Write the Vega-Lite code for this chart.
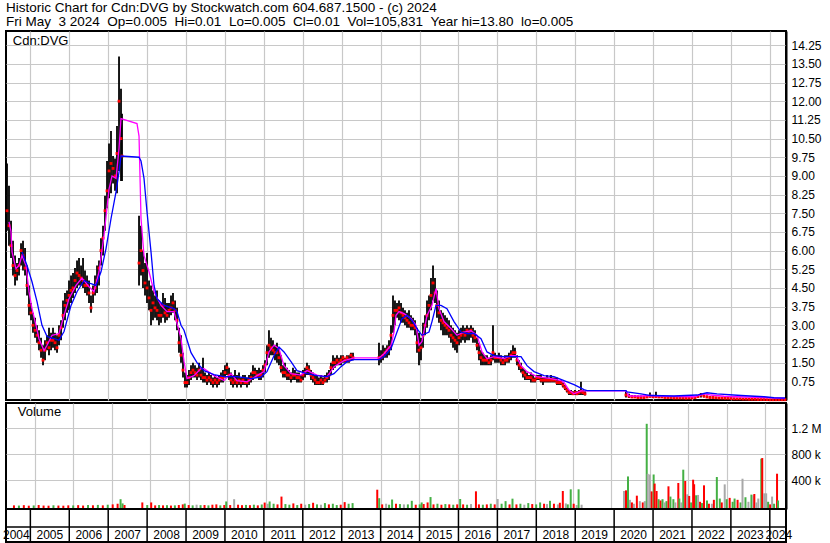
{
"$schema": "https://vega.github.io/schema/vega-lite/v6.json",
"background": "white",
"padding": {"left": 2, "top": 0, "right": 0, "bottom": 0},
"config": {"font": "Liberation Sans", "view": {"stroke": "black", "strokeWidth": 2}, "axis": {"labelOverlap": false}},
"title": {"text": ["Historic Chart for Cdn:DVG by Stockwatch.com 604.687.1500 - (c) 2024", "Fri May \u00a03 2024 \u00a0Op=0.005 \u00a0Hi=0.01 \u00a0Lo=0.005 \u00a0Cl=0.01 \u00a0Vol=105,831 \u00a0Year hi=13.80 \u00a0lo=0.005"], "anchor": "start", "fontSize": 13.5, "fontWeight": "normal", "color": "black", "lineHeight": 14, "offset": 2, "frame": "group"},
"datasets": {
"px": [
{"t":2004.400,"h":9.5,"l":6.8,"c":7.6},{"t":2004.451,"h":8.6,"l":6.2,"c":7.0},{"t":2004.503,"h":7.2,"l":5.7,"c":6.2},{"t":2004.554,"h":6.4,"l":5.0,"c":5.4},{"t":2004.606,"h":5.8,"l":4.6,"c":5.0},{"t":2004.657,"h":5.5,"l":4.8,"c":5.2},{"t":2004.708,"h":5.7,"l":5.0,"c":5.4},{"t":2004.760,"h":6.3,"l":5.4,"c":6.0},{"t":2004.811,"h":6.4,"l":5.2,"c":5.8},{"t":2004.863,"h":6.1,"l":5.0,"c":5.3},{"t":2004.914,"h":5.4,"l":4.2,"c":4.6},{"t":2004.965,"h":4.6,"l":3.4,"c":3.8},{"t":2005.017,"h":3.9,"l":3.2,"c":3.5},{"t":2005.068,"h":3.5,"l":2.7,"c":3.0},{"t":2005.120,"h":3.3,"l":2.5,"c":2.8},{"t":2005.171,"h":3.0,"l":2.3,"c":2.6},{"t":2005.222,"h":2.8,"l":2.0,"c":2.3},{"t":2005.274,"h":2.5,"l":1.7,"c":2.0},{"t":2005.325,"h":2.2,"l":1.4,"c":1.6},{"t":2005.376,"h":2.4,"l":1.6,"c":2.0},{"t":2005.428,"h":2.6,"l":2.0,"c":2.3},{"t":2005.479,"h":2.9,"l":1.8,"c":2.1},{"t":2005.531,"h":2.7,"l":2.0,"c":2.4},{"t":2005.582,"h":2.9,"l":2.1,"c":2.4},{"t":2005.633,"h":2.7,"l":2.0,"c":2.3},{"t":2005.685,"h":2.6,"l":1.9,"c":2.1},{"t":2005.736,"h":3.0,"l":2.2,"c":2.6},{"t":2005.788,"h":3.2,"l":2.4,"c":2.9},{"t":2005.839,"h":4.0,"l":2.9,"c":3.4},{"t":2005.890,"h":4.3,"l":3.2,"c":3.8},{"t":2005.942,"h":4.4,"l":3.5,"c":4.0},{"t":2005.993,"h":4.8,"l":3.6,"c":4.2},{"t":2006.045,"h":5.0,"l":3.9,"c":4.4},{"t":2006.096,"h":5.1,"l":4.1,"c":4.5},{"t":2006.147,"h":5.3,"l":4.3,"c":4.8},{"t":2006.199,"h":5.6,"l":4.5,"c":5.1},{"t":2006.250,"h":5.7,"l":4.6,"c":5.0},{"t":2006.302,"h":5.4,"l":4.6,"c":4.9},{"t":2006.353,"h":5.7,"l":4.5,"c":4.8},{"t":2006.404,"h":5.2,"l":4.3,"c":4.6},{"t":2006.456,"h":5.0,"l":4.2,"c":4.6},{"t":2006.507,"h":4.8,"l":3.9,"c":4.3},{"t":2006.558,"h":4.2,"l":3.5,"c":3.7},{"t":2006.610,"h":4.6,"l":3.9,"c":4.3},{"t":2006.661,"h":5.0,"l":4.2,"c":4.5},{"t":2006.713,"h":5.4,"l":4.3,"c":4.8},{"t":2006.764,"h":5.6,"l":4.6,"c":5.3},{"t":2006.815,"h":6.5,"l":5.4,"c":6.0},{"t":2006.867,"h":7.0,"l":5.8,"c":6.5},{"t":2006.918,"h":8.2,"l":6.8,"c":7.6},{"t":2006.970,"h":9.6,"l":7.7,"c":8.4},{"t":2007.021,"h":10.3,"l":8.1,"c":9.2},{"t":2007.072,"h":10.8,"l":8.3,"c":9.5},{"t":2007.124,"h":9.8,"l":8.7,"c":9.3},{"t":2007.175,"h":9.7,"l":8.4,"c":9.0},{"t":2007.226,"h":11.0,"l":8.3,"c":9.9},{"t":2007.278,"h":13.8,"l":9.2,"c":12.0},{"t":2007.329,"h":12.5,"l":8.8,"c":10.5},{"t":2007.355,"h":11.5,"l":8.8,"c":9.8},
{"t":2007.792,"h":7.4,"l":4.6,"c":5.5},{"t":2007.843,"h":7.0,"l":5.0,"c":6.0},{"t":2007.894,"h":6.0,"l":4.5,"c":5.2},{"t":2007.946,"h":5.5,"l":4.2,"c":4.7},{"t":2007.997,"h":5.9,"l":3.9,"c":4.5},{"t":2008.049,"h":4.8,"l":3.6,"c":4.1},{"t":2008.100,"h":4.6,"l":3.0,"c":3.6},{"t":2008.151,"h":4.4,"l":3.2,"c":3.9},{"t":2008.203,"h":4.2,"l":3.3,"c":3.7},{"t":2008.254,"h":4.4,"l":3.2,"c":3.6},{"t":2008.305,"h":4.0,"l":3.0,"c":3.4},{"t":2008.357,"h":3.9,"l":3.1,"c":3.4},{"t":2008.408,"h":4.3,"l":3.3,"c":3.8},{"t":2008.460,"h":4.1,"l":3.1,"c":3.5},{"t":2008.511,"h":3.9,"l":3.2,"c":3.4},{"t":2008.562,"h":3.9,"l":3.3,"c":3.6},{"t":2008.614,"h":4.2,"l":3.4,"c":3.7},{"t":2008.665,"h":4.3,"l":3.5,"c":3.9},{"t":2008.717,"h":4.0,"l":3.2,"c":3.6},{"t":2008.768,"h":3.7,"l":2.8,"c":3.2},{"t":2008.819,"h":2.9,"l":1.9,"c":2.3},{"t":2008.871,"h":2.6,"l":1.5,"c":1.8},{"t":2008.922,"h":1.9,"l":0.9,"c":1.2},{"t":2008.973,"h":1.1,"l":0.5,"c":0.7},{"t":2009.025,"h":1.0,"l":0.5,"c":0.7},{"t":2009.076,"h":1.2,"l":0.6,"c":0.9},{"t":2009.128,"h":1.4,"l":0.8,"c":1.1},{"t":2009.179,"h":1.5,"l":0.9,"c":1.2},{"t":2009.230,"h":1.4,"l":0.9,"c":1.1},{"t":2009.282,"h":1.3,"l":0.8,"c":1.0},{"t":2009.333,"h":1.5,"l":0.9,"c":1.2},{"t":2009.384,"h":1.3,"l":0.8,"c":1.0},{"t":2009.436,"h":1.7,"l":0.7,"c":0.9},{"t":2009.487,"h":1.1,"l":0.7,"c":0.9},{"t":2009.539,"h":1.0,"l":0.6,"c":0.8},{"t":2009.590,"h":1.1,"l":0.7,"c":0.9},{"t":2009.641,"h":1.0,"l":0.6,"c":0.8},{"t":2009.693,"h":0.9,"l":0.5,"c":0.7},{"t":2009.744,"h":1.0,"l":0.6,"c":0.8},{"t":2009.796,"h":0.9,"l":0.5,"c":0.7},{"t":2009.847,"h":1.0,"l":0.6,"c":0.8},{"t":2009.898,"h":1.1,"l":0.7,"c":0.9},{"t":2009.950,"h":1.2,"l":0.7,"c":0.9},{"t":2010.001,"h":1.4,"l":0.9,"c":1.1},{"t":2010.052,"h":1.5,"l":1.0,"c":1.3},{"t":2010.104,"h":1.3,"l":0.8,"c":1.0},{"t":2010.155,"h":1.1,"l":0.6,"c":0.8},{"t":2010.207,"h":1.0,"l":0.5,"c":0.7},{"t":2010.258,"h":1.2,"l":0.6,"c":0.8},{"t":2010.309,"h":1.0,"l":0.5,"c":0.7},{"t":2010.361,"h":1.1,"l":0.6,"c":0.8},{"t":2010.412,"h":0.9,"l":0.5,"c":0.7},{"t":2010.463,"h":1.0,"l":0.6,"c":0.8},{"t":2010.515,"h":1.0,"l":0.6,"c":0.7},{"t":2010.566,"h":0.9,"l":0.5,"c":0.7},{"t":2010.618,"h":1.0,"l":0.6,"c":0.8},{"t":2010.669,"h":1.1,"l":0.7,"c":0.9},{"t":2010.720,"h":1.4,"l":0.8,"c":1.1},{"t":2010.772,"h":1.3,"l":0.9,"c":1.1},{"t":2010.823,"h":1.2,"l":0.9,"c":1.0},{"t":2010.875,"h":1.3,"l":0.8,"c":1.0},{"t":2010.926,"h":1.2,"l":0.8,"c":1.0},{"t":2010.977,"h":1.4,"l":0.9,"c":1.2},{"t":2011.029,"h":1.6,"l":1.1,"c":1.4},{"t":2011.080,"h":2.2,"l":1.4,"c":1.9},{"t":2011.131,"h":2.8,"l":1.7,"c":2.2},{"t":2011.183,"h":2.5,"l":1.8,"c":2.1},{"t":2011.234,"h":2.4,"l":1.8,"c":2.0},{"t":2011.286,"h":2.2,"l":1.6,"c":1.9},{"t":2011.337,"h":2.3,"l":1.5,"c":1.9},{"t":2011.388,"h":2.1,"l":1.4,"c":1.7},{"t":2011.440,"h":1.8,"l":1.1,"c":1.3},{"t":2011.491,"h":1.4,"l":0.9,"c":1.1},{"t":2011.543,"h":1.5,"l":0.9,"c":1.1},{"t":2011.594,"h":1.3,"l":0.8,"c":1.0},{"t":2011.645,"h":1.2,"l":0.8,"c":1.0},{"t":2011.697,"h":1.1,"l":0.7,"c":0.9},{"t":2011.748,"h":1.3,"l":0.8,"c":1.0},{"t":2011.799,"h":1.2,"l":0.8,"c":1.0},{"t":2011.851,"h":1.1,"l":0.7,"c":0.9},{"t":2011.902,"h":1.1,"l":0.7,"c":0.9},{"t":2011.954,"h":1.0,"l":0.7,"c":0.8},{"t":2012.005,"h":1.2,"l":0.8,"c":1.0},{"t":2012.056,"h":1.3,"l":0.9,"c":1.1},{"t":2012.108,"h":1.5,"l":1.0,"c":1.3},{"t":2012.159,"h":1.4,"l":1.0,"c":1.2},{"t":2012.211,"h":1.2,"l":0.8,"c":1.0},{"t":2012.262,"h":1.1,"l":0.7,"c":0.9},{"t":2012.313,"h":1.0,"l":0.6,"c":0.8},{"t":2012.365,"h":1.0,"l":0.6,"c":0.7},{"t":2012.416,"h":0.9,"l":0.6,"c":0.7},{"t":2012.467,"h":1.0,"l":0.6,"c":0.8},{"t":2012.519,"h":0.9,"l":0.6,"c":0.7},{"t":2012.570,"h":1.0,"l":0.7,"c":0.8},{"t":2012.622,"h":1.1,"l":0.7,"c":0.9},{"t":2012.673,"h":1.2,"l":0.8,"c":1.0},{"t":2012.724,"h":1.5,"l":1.0,"c":1.3},{"t":2012.776,"h":1.8,"l":1.2,"c":1.5},{"t":2012.827,"h":1.7,"l":1.3,"c":1.5},{"t":2012.879,"h":1.8,"l":1.4,"c":1.6},{"t":2012.930,"h":1.7,"l":1.4,"c":1.5},{"t":2012.981,"h":1.8,"l":1.4,"c":1.6},{"t":2013.033,"h":1.8,"l":1.5,"c":1.7},{"t":2013.084,"h":1.7,"l":1.5,"c":1.6},{"t":2013.135,"h":1.8,"l":1.5,"c":1.7},{"t":2013.187,"h":1.8,"l":1.5,"c":1.6},{"t":2013.238,"h":1.9,"l":1.6,"c":1.8},{"t":2013.290,"h":1.9,"l":1.6,"c":1.7},
{"t":2013.958,"h":2.3,"l":1.4,"c":1.7},{"t":2014.010,"h":2.0,"l":1.5,"c":1.7},{"t":2014.061,"h":2.2,"l":1.6,"c":1.8},{"t":2014.112,"h":2.1,"l":1.7,"c":1.9},{"t":2014.164,"h":2.2,"l":1.7,"c":2.0},{"t":2014.215,"h":2.4,"l":1.8,"c":2.1},{"t":2014.267,"h":3.0,"l":2.0,"c":2.6},{"t":2014.318,"h":4.2,"l":2.7,"c":3.4},{"t":2014.369,"h":4.0,"l":3.0,"c":3.6},{"t":2014.421,"h":3.9,"l":3.3,"c":3.6},{"t":2014.472,"h":4.0,"l":3.2,"c":3.7},{"t":2014.524,"h":3.9,"l":3.1,"c":3.5},{"t":2014.575,"h":3.7,"l":3.1,"c":3.4},{"t":2014.626,"h":3.6,"l":3.0,"c":3.3},{"t":2014.678,"h":3.5,"l":2.9,"c":3.2},{"t":2014.729,"h":3.6,"l":2.9,"c":3.1},{"t":2014.780,"h":3.4,"l":2.8,"c":3.0},{"t":2014.832,"h":3.3,"l":2.8,"c":3.0},{"t":2014.883,"h":3.2,"l":2.6,"c":2.9},{"t":2014.935,"h":2.9,"l":1.9,"c":2.3},{"t":2014.986,"h":2.7,"l":1.4,"c":2.0},{"t":2015.037,"h":2.5,"l":1.6,"c":2.1},{"t":2015.089,"h":3.1,"l":2.1,"c":2.6},{"t":2015.140,"h":3.4,"l":2.6,"c":3.0},{"t":2015.192,"h":4.0,"l":2.9,"c":3.4},{"t":2015.243,"h":4.2,"l":3.2,"c":3.8},{"t":2015.294,"h":4.9,"l":3.6,"c":4.2},{"t":2015.346,"h":5.4,"l":4.0,"c":4.7},{"t":2015.397,"h":4.9,"l":3.9,"c":4.3},{"t":2015.448,"h":4.4,"l":3.3,"c":3.8},{"t":2015.500,"h":4.0,"l":3.1,"c":3.5},{"t":2015.551,"h":3.6,"l":2.8,"c":3.2},{"t":2015.603,"h":3.5,"l":2.6,"c":3.1},{"t":2015.654,"h":3.4,"l":2.6,"c":3.0},{"t":2015.705,"h":3.3,"l":2.6,"c":2.9},{"t":2015.757,"h":3.2,"l":2.5,"c":2.8},{"t":2015.808,"h":3.0,"l":2.3,"c":2.6},{"t":2015.860,"h":2.9,"l":2.1,"c":2.5},{"t":2015.911,"h":2.8,"l":2.0,"c":2.4},{"t":2015.962,"h":2.7,"l":1.9,"c":2.3},{"t":2016.014,"h":2.8,"l":2.2,"c":2.5},{"t":2016.065,"h":2.9,"l":2.3,"c":2.6},{"t":2016.116,"h":3.0,"l":2.4,"c":2.7},{"t":2016.168,"h":2.9,"l":2.3,"c":2.6},{"t":2016.219,"h":3.0,"l":2.4,"c":2.8},{"t":2016.271,"h":2.9,"l":2.4,"c":2.7},{"t":2016.322,"h":3.0,"l":2.5,"c":2.8},{"t":2016.373,"h":2.9,"l":2.3,"c":2.6},{"t":2016.425,"h":2.8,"l":2.3,"c":2.5},{"t":2016.476,"h":2.5,"l":2.0,"c":2.2},{"t":2016.528,"h":2.3,"l":1.6,"c":1.9},{"t":2016.579,"h":2.0,"l":1.4,"c":1.7},{"t":2016.630,"h":1.9,"l":1.4,"c":1.6},{"t":2016.682,"h":1.8,"l":1.4,"c":1.6},{"t":2016.733,"h":1.8,"l":1.4,"c":1.6},{"t":2016.784,"h":1.7,"l":1.4,"c":1.5},{"t":2016.836,"h":1.8,"l":1.4,"c":1.6},{"t":2016.887,"h":3.0,"l":1.6,"c":1.9},{"t":2016.939,"h":1.9,"l":1.5,"c":1.7},{"t":2016.990,"h":1.8,"l":1.5,"c":1.7},{"t":2017.041,"h":1.9,"l":1.5,"c":1.7},{"t":2017.093,"h":1.8,"l":1.4,"c":1.6},{"t":2017.144,"h":1.7,"l":1.4,"c":1.5},{"t":2017.196,"h":1.8,"l":1.4,"c":1.6},{"t":2017.247,"h":1.8,"l":1.5,"c":1.6},{"t":2017.298,"h":1.9,"l":1.5,"c":1.7},{"t":2017.350,"h":2.0,"l":1.6,"c":1.8},{"t":2017.401,"h":2.2,"l":1.7,"c":1.9},{"t":2017.452,"h":2.1,"l":1.7,"c":1.9},{"t":2017.504,"h":1.8,"l":1.4,"c":1.6},{"t":2017.555,"h":1.6,"l":1.2,"c":1.4},{"t":2017.607,"h":1.5,"l":1.1,"c":1.3},{"t":2017.658,"h":1.3,"l":0.9,"c":1.1},{"t":2017.709,"h":1.2,"l":0.8,"c":1.0},{"t":2017.761,"h":1.1,"l":0.8,"c":0.9},{"t":2017.812,"h":1.0,"l":0.8,"c":0.9},{"t":2017.864,"h":1.1,"l":0.7,"c":0.9},{"t":2017.915,"h":1.0,"l":0.7,"c":0.8},{"t":2017.966,"h":0.9,"l":0.7,"c":0.8},{"t":2018.018,"h":1.0,"l":0.8,"c":0.9},{"t":2018.069,"h":1.0,"l":0.8,"c":0.9},{"t":2018.120,"h":1.0,"l":0.7,"c":0.8},{"t":2018.172,"h":0.9,"l":0.6,"c":0.8},{"t":2018.223,"h":0.9,"l":0.7,"c":0.8},{"t":2018.275,"h":1.0,"l":0.7,"c":0.8},{"t":2018.326,"h":0.9,"l":0.7,"c":0.8},{"t":2018.377,"h":1.0,"l":0.7,"c":0.8},{"t":2018.429,"h":0.9,"l":0.7,"c":0.8},{"t":2018.480,"h":0.9,"l":0.7,"c":0.8},{"t":2018.532,"h":0.9,"l":0.6,"c":0.7},{"t":2018.583,"h":0.8,"l":0.6,"c":0.7},{"t":2018.634,"h":0.8,"l":0.6,"c":0.7},{"t":2018.686,"h":0.7,"l":0.5,"c":0.6},{"t":2018.737,"h":0.6,"l":0.4,"c":0.5},{"t":2018.788,"h":0.5,"l":0.3,"c":0.4},{"t":2018.840,"h":0.4,"l":0.2,"c":0.3},{"t":2018.891,"h":0.4,"l":0.2,"c":0.3},{"t":2018.943,"h":0.35,"l":0.2,"c":0.25},{"t":2018.994,"h":0.4,"l":0.2,"c":0.3},{"t":2019.045,"h":0.35,"l":0.2,"c":0.25},{"t":2019.097,"h":0.4,"l":0.2,"c":0.3},{"t":2019.148,"h":0.73,"l":0.2,"c":0.35},{"t":2019.199,"h":0.4,"l":0.2,"c":0.3},{"t":2019.251,"h":0.35,"l":0.18,"c":0.25},
{"t":2020.304,"h":0.35,"l":0.1,"c":0.2},{"t":2020.381,"h":0.25,"l":0.08,"c":0.15},{"t":2020.458,"h":0.2,"l":0.08,"c":0.12},{"t":2020.535,"h":0.2,"l":0.08,"c":0.12},{"t":2020.612,"h":0.18,"l":0.07,"c":0.1},{"t":2020.689,"h":0.18,"l":0.07,"c":0.1},{"t":2020.766,"h":0.15,"l":0.06,"c":0.1},{"t":2020.844,"h":0.18,"l":0.08,"c":0.12},{"t":2020.921,"h":0.3,"l":0.1,"c":0.15},{"t":2020.998,"h":0.2,"l":0.1,"c":0.13},{"t":2021.075,"h":0.33,"l":0.1,"c":0.13},{"t":2021.152,"h":0.15,"l":0.08,"c":0.12},{"t":2021.229,"h":0.16,"l":0.08,"c":0.12},{"t":2021.306,"h":0.15,"l":0.08,"c":0.1},{"t":2021.383,"h":0.14,"l":0.07,"c":0.1},{"t":2021.460,"h":0.14,"l":0.07,"c":0.1},{"t":2021.537,"h":0.12,"l":0.06,"c":0.08},{"t":2021.614,"h":0.12,"l":0.06,"c":0.08},{"t":2021.692,"h":0.12,"l":0.05,"c":0.08},{"t":2021.769,"h":0.12,"l":0.05,"c":0.08},{"t":2021.846,"h":0.1,"l":0.05,"c":0.07},{"t":2021.923,"h":0.12,"l":0.05,"c":0.08},{"t":2022.000,"h":0.12,"l":0.05,"c":0.08},{"t":2022.077,"h":0.14,"l":0.06,"c":0.1},{"t":2022.154,"h":0.2,"l":0.08,"c":0.14},{"t":2022.231,"h":0.28,"l":0.1,"c":0.2},{"t":2022.308,"h":0.22,"l":0.1,"c":0.16},{"t":2022.385,"h":0.18,"l":0.08,"c":0.12},{"t":2022.462,"h":0.15,"l":0.07,"c":0.1},{"t":2022.540,"h":0.14,"l":0.06,"c":0.1},{"t":2022.617,"h":0.12,"l":0.06,"c":0.09},{"t":2022.694,"h":0.12,"l":0.05,"c":0.08},{"t":2022.771,"h":0.12,"l":0.05,"c":0.08},{"t":2022.848,"h":0.1,"l":0.04,"c":0.07},{"t":2022.925,"h":0.1,"l":0.04,"c":0.07},{"t":2023.002,"h":0.1,"l":0.04,"c":0.06},{"t":2023.079,"h":0.09,"l":0.03,"c":0.05},{"t":2023.156,"h":0.08,"l":0.03,"c":0.05},{"t":2023.233,"h":0.08,"l":0.03,"c":0.05},{"t":2023.310,"h":0.07,"l":0.02,"c":0.04},{"t":2023.388,"h":0.06,"l":0.02,"c":0.04},{"t":2023.465,"h":0.06,"l":0.02,"c":0.03},{"t":2023.542,"h":0.05,"l":0.015,"c":0.03},{"t":2023.619,"h":0.05,"l":0.01,"c":0.03},{"t":2023.696,"h":0.04,"l":0.01,"c":0.02},{"t":2023.773,"h":0.04,"l":0.01,"c":0.02},{"t":2023.850,"h":0.03,"l":0.01,"c":0.02},{"t":2023.927,"h":0.03,"l":0.005,"c":0.015},{"t":2024.004,"h":0.03,"l":0.005,"c":0.01},{"t":2024.081,"h":0.02,"l":0.005,"c":0.01},{"t":2024.158,"h":0.02,"l":0.005,"c":0.01},{"t":2024.236,"h":0.015,"l":0.005,"c":0.01},{"t":2024.313,"h":0.015,"l":0.005,"c":0.01},{"t":2024.390,"h":0.01,"l":0.005,"c":0.01}
],
"mg": [
{"t":2004.451,"p":7.15},{"t":2004.503,"p":6.76},{"t":2004.529,"p":5.95},{"t":2004.631,"p":5.27},{"t":2004.708,"p":5.4},{"t":2004.785,"p":5.8},{"t":2004.888,"p":5.4},{"t":2004.965,"p":4.35},{"t":2005.042,"p":3.67},{"t":2005.145,"p":3.0},{"t":2005.222,"p":2.46},{"t":2005.351,"p":1.99},{"t":2005.428,"p":2.2},{"t":2005.556,"p":2.6},{"t":2005.736,"p":2.67},{"t":2005.865,"p":3.4},{"t":2005.993,"p":4.07},{"t":2006.173,"p":4.6},{"t":2006.327,"p":4.9},{"t":2006.507,"p":4.55},{"t":2006.635,"p":4.35},{"t":2006.764,"p":5.15},{"t":2006.892,"p":6.6},{"t":2007.021,"p":8.47},{"t":2007.098,"p":9.0},{"t":2007.201,"p":8.9},{"t":2007.278,"p":10.1},{"t":2007.329,"p":11.3},{"t":2007.740,"p":11.1},{"t":2007.792,"p":10.6},{"t":2007.843,"p":7.3},{"t":2007.920,"p":5.8},{"t":2008.049,"p":5.15},{"t":2008.177,"p":4.35},{"t":2008.357,"p":3.8},{"t":2008.511,"p":3.55},{"t":2008.691,"p":3.55},{"t":2008.871,"p":2.47},{"t":2008.948,"p":1.55},{"t":2009.025,"p":0.86},{"t":2009.205,"p":0.98},{"t":2009.384,"p":1.26},{"t":2009.462,"p":1.26},{"t":2009.719,"p":0.98},{"t":2009.976,"p":0.78},{"t":2010.155,"p":1.06},{"t":2010.309,"p":0.78},{"t":2010.566,"p":0.73},{"t":2010.823,"p":0.98},{"t":2011.003,"p":1.14},{"t":2011.131,"p":1.93},{"t":2011.260,"p":2.2},{"t":2011.388,"p":2.06},{"t":2011.517,"p":1.38},{"t":2011.697,"p":1.06},{"t":2011.954,"p":1.0},{"t":2012.108,"p":1.18},{"t":2012.365,"p":1.0},{"t":2012.622,"p":0.92},{"t":2012.802,"p":1.34},{"t":2013.059,"p":1.58},{"t":2013.316,"p":1.69},{"t":2013.958,"p":1.69},{"t":2014.087,"p":1.86},{"t":2014.267,"p":2.2},{"t":2014.344,"p":2.73},{"t":2014.395,"p":3.4},{"t":2014.472,"p":3.55},{"t":2014.601,"p":3.47},{"t":2014.780,"p":3.27},{"t":2014.909,"p":3.0},{"t":2014.986,"p":2.2},{"t":2015.063,"p":2.35},{"t":2015.192,"p":3.4},{"t":2015.320,"p":3.8},{"t":2015.423,"p":4.47},{"t":2015.500,"p":3.67},{"t":2015.628,"p":3.15},{"t":2015.808,"p":2.87},{"t":2015.962,"p":2.6},{"t":2016.142,"p":2.73},{"t":2016.322,"p":2.78},{"t":2016.476,"p":2.6},{"t":2016.605,"p":1.93},{"t":2016.733,"p":1.66},{"t":2016.913,"p":1.74},{"t":2017.170,"p":1.66},{"t":2017.350,"p":1.78},{"t":2017.478,"p":1.78},{"t":2017.607,"p":1.38},{"t":2017.761,"p":1.14},{"t":2018.018,"p":0.94},{"t":2018.377,"p":0.86},{"t":2018.634,"p":0.78},{"t":2018.712,"p":0.7},{"t":2018.840,"p":0.4},{"t":2018.969,"p":0.25},{"t":2019.148,"p":0.37},{"t":2020.304,"p":0.37},{"t":2020.381,"p":0.16},{"t":2020.689,"p":0.16},{"t":2020.946,"p":0.18},{"t":2021.281,"p":0.15},{"t":2022.052,"p":0.13},{"t":2022.309,"p":0.25},{"t":2022.489,"p":0.2},{"t":2022.823,"p":0.15},{"t":2023.337,"p":0.12},{"t":2023.851,"p":0.1},{"t":2024.390,"p":0.06}
],
"bl": [
{"t":2004.785,"p":5.95},{"t":2004.914,"p":5.4},{"t":2005.042,"p":4.75},{"t":2005.171,"p":3.95},{"t":2005.299,"p":3.0},{"t":2005.428,"p":2.55},{"t":2005.608,"p":2.47},{"t":2005.736,"p":2.4},{"t":2005.865,"p":2.75},{"t":2006.045,"p":3.8},{"t":2006.199,"p":4.35},{"t":2006.379,"p":4.8},{"t":2006.558,"p":4.67},{"t":2006.687,"p":4.6},{"t":2006.815,"p":5.15},{"t":2006.944,"p":6.08},{"t":2007.072,"p":7.28},{"t":2007.201,"p":8.36},{"t":2007.278,"p":9.16},{"t":2007.329,"p":9.8},{"t":2007.792,"p":9.75},{"t":2007.843,"p":9.6},{"t":2007.920,"p":8.9},{"t":2007.997,"p":7.56},{"t":2008.100,"p":5.95},{"t":2008.177,"p":4.6},{"t":2008.254,"p":4.07},{"t":2008.434,"p":3.8},{"t":2008.691,"p":3.67},{"t":2008.768,"p":3.55},{"t":2008.871,"p":3.0},{"t":2008.948,"p":2.8},{"t":2009.128,"p":1.9},{"t":2009.282,"p":1.5},{"t":2009.462,"p":1.18},{"t":2009.719,"p":1.02},{"t":2009.976,"p":0.94},{"t":2010.309,"p":0.94},{"t":2010.669,"p":0.86},{"t":2010.926,"p":0.92},{"t":2011.080,"p":1.14},{"t":2011.260,"p":1.78},{"t":2011.388,"p":2.13},{"t":2011.517,"p":1.93},{"t":2011.697,"p":1.54},{"t":2011.851,"p":1.18},{"t":2012.108,"p":1.06},{"t":2012.365,"p":0.98},{"t":2012.622,"p":0.94},{"t":2012.802,"p":1.06},{"t":2012.981,"p":1.34},{"t":2013.135,"p":1.54},{"t":2013.316,"p":1.62},{"t":2013.958,"p":1.62},{"t":2014.087,"p":1.75},{"t":2014.267,"p":2.06},{"t":2014.421,"p":2.73},{"t":2014.549,"p":3.27},{"t":2014.678,"p":3.4},{"t":2014.806,"p":3.2},{"t":2014.935,"p":2.87},{"t":2015.063,"p":2.6},{"t":2015.243,"p":2.73},{"t":2015.320,"p":3.15},{"t":2015.423,"p":3.8},{"t":2015.551,"p":3.8},{"t":2015.705,"p":3.67},{"t":2015.885,"p":3.15},{"t":2016.065,"p":2.73},{"t":2016.219,"p":2.67},{"t":2016.399,"p":2.67},{"t":2016.579,"p":2.46},{"t":2016.733,"p":1.93},{"t":2016.913,"p":1.78},{"t":2017.170,"p":1.74},{"t":2017.427,"p":1.74},{"t":2017.607,"p":1.74},{"t":2017.761,"p":1.38},{"t":2017.941,"p":1.14},{"t":2018.198,"p":0.98},{"t":2018.455,"p":0.94},{"t":2018.712,"p":0.78},{"t":2018.969,"p":0.62},{"t":2019.226,"p":0.42},{"t":2019.303,"p":0.38},{"t":2020.304,"p":0.38},{"t":2020.330,"p":0.33},{"t":2020.689,"p":0.25},{"t":2020.946,"p":0.18},{"t":2021.538,"p":0.16},{"t":2022.129,"p":0.2},{"t":2022.385,"p":0.29},{"t":2022.643,"p":0.25},{"t":2023.259,"p":0.18},{"t":2023.851,"p":0.13},{"t":2024.107,"p":0.09},{"t":2024.390,"p":0.08}
],
"vol": [
{"t":2004.451,"v":15000,"d":"d"},{"t":2004.580,"v":12000,"d":"u"},{"t":2004.708,"v":18000,"d":"d"},{"t":2004.837,"v":10000,"d":"d"},{"t":2004.965,"v":14000,"d":"u"},{"t":2005.094,"v":20000,"d":"d"},{"t":2005.222,"v":12000,"d":"d"},{"t":2005.351,"v":10000,"d":"d"},{"t":2005.479,"v":16000,"d":"u"},{"t":2005.608,"v":12000,"d":"d"},{"t":2005.736,"v":10000,"d":"d"},{"t":2005.865,"v":15000,"d":"d"},{"t":2005.993,"v":14000,"d":"u"},{"t":2006.122,"v":18000,"d":"d"},{"t":2006.250,"v":12000,"d":"d"},{"t":2006.379,"v":20000,"d":"u"},{"t":2006.507,"v":16000,"d":"d"},{"t":2006.635,"v":22000,"d":"u"},{"t":2006.764,"v":15000,"d":"d"},{"t":2006.892,"v":25000,"d":"u"},{"t":2007.021,"v":30000,"d":"d"},{"t":2007.149,"v":40000,"d":"d"},{"t":2007.226,"v":110000,"d":"u"},{"t":2007.278,"v":45000,"d":"u"},{"t":2007.329,"v":20000,"d":"d"},
{"t":2007.792,"v":60000,"d":"d"},{"t":2007.920,"v":20000,"d":"u"},{"t":2008.023,"v":60000,"d":"d"},{"t":2008.126,"v":15000,"d":"d"},{"t":2008.228,"v":20000,"d":"u"},{"t":2008.331,"v":15000,"d":"d"},{"t":2008.434,"v":18000,"d":"u"},{"t":2008.537,"v":12000,"d":"d"},{"t":2008.640,"v":15000,"d":"u"},{"t":2008.742,"v":20000,"d":"d"},{"t":2008.845,"v":30000,"d":"d"},{"t":2008.897,"v":42000,"d":"u"},{"t":2008.999,"v":20000,"d":"d"},{"t":2009.102,"v":15000,"d":"u"},{"t":2009.205,"v":25000,"d":"f"},{"t":2009.308,"v":18000,"d":"u"},{"t":2009.411,"v":20000,"d":"d"},{"t":2009.513,"v":15000,"d":"u"},{"t":2009.616,"v":25000,"d":"d"},{"t":2009.719,"v":30000,"d":"d"},{"t":2009.822,"v":15000,"d":"u"},{"t":2009.925,"v":20000,"d":"d"},{"t":2009.976,"v":75000,"d":"u"},{"t":2010.079,"v":20000,"d":"d"},{"t":2010.182,"v":110000,"d":"f"},{"t":2010.284,"v":25000,"d":"d"},{"t":2010.387,"v":18000,"d":"d"},{"t":2010.490,"v":22000,"d":"u"},{"t":2010.593,"v":18000,"d":"d"},{"t":2010.696,"v":25000,"d":"u"},{"t":2010.798,"v":15000,"d":"d"},{"t":2010.901,"v":30000,"d":"u"},{"t":2010.977,"v":58000,"d":"d"},{"t":2011.054,"v":40000,"d":"f"},{"t":2011.106,"v":75000,"d":"u"},{"t":2011.209,"v":40000,"d":"u"},{"t":2011.311,"v":30000,"d":"d"},{"t":2011.414,"v":150000,"d":"d"},{"t":2011.517,"v":35000,"d":"u"},{"t":2011.620,"v":25000,"d":"u"},{"t":2011.723,"v":45000,"d":"d"},{"t":2011.825,"v":20000,"d":"u"},{"t":2011.928,"v":40000,"d":"d"},{"t":2012.031,"v":25000,"d":"f"},{"t":2012.134,"v":35000,"d":"u"},{"t":2012.237,"v":55000,"d":"d"},{"t":2012.339,"v":30000,"d":"u"},{"t":2012.442,"v":25000,"d":"f"},{"t":2012.545,"v":50000,"d":"u"},{"t":2012.648,"v":30000,"d":"d"},{"t":2012.751,"v":40000,"d":"u"},{"t":2012.853,"v":20000,"d":"u"},{"t":2012.956,"v":25000,"d":"d"},{"t":2013.059,"v":65000,"d":"d"},{"t":2013.162,"v":40000,"d":"u"},{"t":2013.265,"v":50000,"d":"u"},
{"t":2013.907,"v":256000,"d":"d"},{"t":2013.958,"v":125000,"d":"u"},{"t":2014.035,"v":30000,"d":"d"},{"t":2014.138,"v":40000,"d":"f"},{"t":2014.215,"v":25000,"d":"u"},{"t":2014.293,"v":105000,"d":"u"},{"t":2014.395,"v":40000,"d":"d"},{"t":2014.498,"v":35000,"d":"u"},{"t":2014.601,"v":30000,"d":"f"},{"t":2014.704,"v":30000,"d":"u"},{"t":2014.806,"v":85000,"d":"u"},{"t":2014.909,"v":25000,"d":"d"},{"t":2015.012,"v":30000,"d":"u"},{"t":2015.063,"v":60000,"d":"u"},{"t":2015.115,"v":35000,"d":"d"},{"t":2015.218,"v":60000,"d":"d"},{"t":2015.294,"v":143000,"d":"u"},{"t":2015.371,"v":30000,"d":"d"},{"t":2015.474,"v":40000,"d":"u"},{"t":2015.577,"v":25000,"d":"d"},{"t":2015.680,"v":35000,"d":"u"},{"t":2015.782,"v":30000,"d":"d"},{"t":2015.885,"v":25000,"d":"u"},{"t":2015.988,"v":30000,"d":"d"},{"t":2016.065,"v":113000,"d":"u"},{"t":2016.142,"v":30000,"d":"d"},{"t":2016.245,"v":25000,"d":"u"},{"t":2016.348,"v":35000,"d":"f"},{"t":2016.476,"v":231000,"d":"d"},{"t":2016.553,"v":30000,"d":"d"},{"t":2016.656,"v":25000,"d":"u"},{"t":2016.759,"v":30000,"d":"d"},{"t":2016.862,"v":40000,"d":"u"},{"t":2016.964,"v":30000,"d":"d"},{"t":2017.041,"v":113000,"d":"f"},{"t":2017.144,"v":40000,"d":"u"},{"t":2017.247,"v":80000,"d":"u"},{"t":2017.350,"v":30000,"d":"d"},{"t":2017.427,"v":118000,"d":"u"},{"t":2017.530,"v":30000,"d":"d"},{"t":2017.633,"v":40000,"d":"u"},{"t":2017.735,"v":25000,"d":"f"},{"t":2017.838,"v":50000,"d":"u"},{"t":2017.941,"v":35000,"d":"d"},{"t":2018.044,"v":30000,"d":"u"},{"t":2018.146,"v":60000,"d":"u"},{"t":2018.249,"v":40000,"d":"d"},{"t":2018.326,"v":35000,"d":"f"},{"t":2018.403,"v":85000,"d":"u"},{"t":2018.506,"v":40000,"d":"d"},{"t":2018.609,"v":30000,"d":"f"},{"t":2018.660,"v":55000,"d":"d"},{"t":2018.737,"v":236000,"d":"d"},{"t":2018.815,"v":45000,"d":"f"},{"t":2018.866,"v":30000,"d":"u"},{"t":2018.943,"v":262000,"d":"u"},{"t":2019.020,"v":40000,"d":"d"},{"t":2019.097,"v":20000,"d":"f"},{"t":2019.148,"v":262000,"d":"u"},{"t":2019.226,"v":25000,"d":"f"},
{"t":2020.330,"v":236000,"d":"f"},{"t":2020.381,"v":246000,"d":"d"},{"t":2020.433,"v":460000,"d":"u"},{"t":2020.484,"v":100000,"d":"f"},{"t":2020.536,"v":60000,"d":"d"},{"t":2020.587,"v":40000,"d":"f"},{"t":2020.664,"v":164000,"d":"d"},{"t":2020.741,"v":80000,"d":"f"},{"t":2020.818,"v":60000,"d":"d"},{"t":2020.870,"v":80000,"d":"f"},{"t":2020.921,"v":1270000,"d":"u"},{"t":2020.947,"v":500000,"d":"f"},{"t":2020.998,"v":490000,"d":"f"},{"t":2021.050,"v":230000,"d":"d"},{"t":2021.101,"v":490000,"d":"u"},{"t":2021.127,"v":350000,"d":"d"},{"t":2021.178,"v":236000,"d":"d"},{"t":2021.230,"v":110000,"d":"u"},{"t":2021.281,"v":90000,"d":"d"},{"t":2021.332,"v":110000,"d":"u"},{"t":2021.384,"v":60000,"d":"f"},{"t":2021.435,"v":80000,"d":"u"},{"t":2021.487,"v":308000,"d":"d"},{"t":2021.538,"v":150000,"d":"u"},{"t":2021.615,"v":110000,"d":"u"},{"t":2021.666,"v":60000,"d":"f"},{"t":2021.743,"v":359000,"d":"d"},{"t":2021.769,"v":120000,"d":"u"},{"t":2021.820,"v":60000,"d":"f"},{"t":2021.872,"v":564000,"d":"u"},{"t":2021.923,"v":390000,"d":"d"},{"t":2021.974,"v":185000,"d":"f"},{"t":2022.026,"v":160000,"d":"d"},{"t":2022.077,"v":60000,"d":"u"},{"t":2022.129,"v":410000,"d":"d"},{"t":2022.155,"v":340000,"d":"d"},{"t":2022.206,"v":170000,"d":"u"},{"t":2022.257,"v":175000,"d":"f"},{"t":2022.309,"v":70000,"d":"d"},{"t":2022.360,"v":50000,"d":"u"},{"t":2022.412,"v":323000,"d":"d"},{"t":2022.489,"v":90000,"d":"u"},{"t":2022.540,"v":40000,"d":"d"},{"t":2022.617,"v":40000,"d":"f"},{"t":2022.669,"v":100000,"d":"d"},{"t":2022.746,"v":451000,"d":"u"},{"t":2022.823,"v":120000,"d":"u"},{"t":2022.874,"v":60000,"d":"d"},{"t":2022.951,"v":338000,"d":"f"},{"t":2023.003,"v":110000,"d":"u"},{"t":2023.080,"v":130000,"d":"d"},{"t":2023.157,"v":70000,"d":"u"},{"t":2023.208,"v":120000,"d":"u"},{"t":2023.286,"v":100000,"d":"d"},{"t":2023.363,"v":60000,"d":"u"},{"t":2023.414,"v":425000,"d":"f"},{"t":2023.491,"v":140000,"d":"u"},{"t":2023.568,"v":70000,"d":"f"},{"t":2023.646,"v":180000,"d":"u"},{"t":2023.697,"v":170000,"d":"f"},{"t":2023.722,"v":190000,"d":"d"},{"t":2023.774,"v":60000,"d":"f"},{"t":2023.825,"v":120000,"d":"f"},{"t":2023.902,"v":733000,"d":"u"},{"t":2023.928,"v":743000,"d":"d"},{"t":2023.979,"v":200000,"d":"f"},{"t":2024.030,"v":200000,"d":"f"},{"t":2024.081,"v":70000,"d":"u"},{"t":2024.133,"v":30000,"d":"d"},{"t":2024.184,"v":150000,"d":"f"},{"t":2024.236,"v":40000,"d":"u"},{"t":2024.313,"v":502000,"d":"d"},{"t":2024.338,"v":90000,"d":"u"}
],
"bounds": [{"b":2005},{"b":2006},{"b":2007},{"b":2008},{"b":2009},{"b":2010},{"b":2011},{"b":2012},{"b":2013},{"b":2014},{"b":2015},{"b":2016},{"b":2017},{"b":2018},{"b":2019},{"b":2020},{"b":2021},{"b":2022},{"b":2023},{"b":2024}],
"labels": [{"yr":"2004","m":2004.64},{"yr":"2005","m":2005.5},{"yr":"2006","m":2006.5},{"yr":"2007","m":2007.5},{"yr":"2008","m":2008.5},{"yr":"2009","m":2009.5},{"yr":"2010","m":2010.5},{"yr":"2011","m":2011.5},{"yr":"2012","m":2012.5},{"yr":"2013","m":2013.5},{"yr":"2014","m":2014.5},{"yr":"2015","m":2015.5},{"yr":"2016","m":2016.5},{"yr":"2017","m":2017.5},{"yr":"2018","m":2018.5},{"yr":"2019","m":2019.5},{"yr":"2020","m":2020.5},{"yr":"2021","m":2021.5},{"yr":"2022","m":2022.5},{"yr":"2023","m":2023.5},{"yr":"2024","m":2024.23}]
},
"spacing": 3,
"bounds": "flush",
"vconcat": [
{
"width": 780, "height": 369,
"encoding": {"x": {"field": "t", "type": "quantitative", "title": null, "scale": {"domain": [2004.374, 2024.416], "nice": false, "zero": false}, "axis": {"values": [2005,2006,2007,2008,2009,2010,2011,2012,2013,2014,2015,2016,2017,2018,2019,2020,2021,2022,2023,2024], "tickCount": 60, "grid": true, "gridColor": "#c8c8c8", "gridWidth": 1.2, "labels": false, "ticks": false, "domain": false, "minExtent": 0, "maxExtent": 0, "offset": 0}}},
"layer": [
{"data": {"name": "px"}, "mark": {"type": "rule", "color": "black", "strokeWidth": 1.8},
 "encoding": {"y": {"field": "l", "type": "quantitative", "title": null, "scale": {"domain": [0, 14.82], "nice": false}, "axis": {"orient": "right", "values": [0.75,1.5,2.25,3,3.75,4.5,5.25,6,6.75,7.5,8.25,9,9.75,10.5,11.25,12,12.75,13.5,14.25], "tickCount": 60, "format": ".2f", "labelOverlap": false, "labelBound": false, "grid": true, "gridColor": "#c8c8c8", "gridWidth": 1.2, "ticks": false, "domainColor": "black", "domainWidth": 2, "labelFontSize": 12, "labelColor": "black", "labelPadding": 5, "labelFont": "Liberation Sans"}}, "y2": {"field": "h"}}},
{"data": {"name": "px"}, "mark": {"type": "point", "shape": "square", "filled": true, "color": "#ff0000", "size": 8, "opacity": 1},
 "encoding": {"y": {"field": "c", "type": "quantitative", "title": null}}},
{"data": {"name": "mg"}, "mark": {"type": "line", "color": "#ff00ff", "strokeWidth": 1.3},
 "encoding": {"y": {"field": "p", "type": "quantitative", "title": null}}},
{"data": {"name": "bl"}, "mark": {"type": "line", "color": "#0000ff", "strokeWidth": 1.3},
 "encoding": {"y": {"field": "p", "type": "quantitative", "title": null}}},
{"data": {"values": [{"label": "Cdn:DVG", "t": 2004.55, "p": 14.43}]}, "mark": {"type": "text", "align": "left", "baseline": "middle", "fontSize": 13, "color": "black"},
 "encoding": {"y": {"field": "p", "type": "quantitative", "title": null}, "text": {"field": "label"}}}
]
},
{
"spacing": 0,
"bounds": "flush",
"vconcat": [
{
"width": 780, "height": 106,
"encoding": {"x": {"field": "t", "type": "quantitative", "title": null, "scale": {"domain": [2004.374, 2024.416], "nice": false, "zero": false}, "axis": {"values": [2005,2006,2007,2008,2009,2010,2011,2012,2013,2014,2015,2016,2017,2018,2019,2020,2021,2022,2023,2024], "tickCount": 60, "grid": true, "gridColor": "#c8c8c8", "gridWidth": 1.2, "labels": false, "ticks": false, "domain": false, "minExtent": 0, "maxExtent": 0, "offset": 0}}},
"layer": [
{"data": {"name": "vol"}, "mark": {"type": "bar", "size": 2},
 "encoding": {"y": {"field": "v", "type": "quantitative", "title": null, "scale": {"domain": [-41000, 1590000], "nice": false, "zero": false}, "axis": {"orient": "right", "values": [400000, 800000, 1200000], "tickCount": 20, "labelExpr": "datum.value == 1200000 ? '1.2 M' : (datum.value / 1000) + ' k'", "labelOverlap": false, "grid": true, "gridColor": "#c8c8c8", "gridWidth": 1.2, "ticks": false, "domainColor": "black", "domainWidth": 2, "labelFontSize": 12, "labelColor": "black", "labelPadding": 5, "labelFont": "Liberation Sans"}}, "y2": {"datum": -41000},
  "color": {"field": "d", "type": "nominal", "scale": {"domain": ["u", "d", "f"], "range": ["#44b044", "#ff0000", "#a8a8a8"]}, "legend": null}}},
{"data": {"values": [{"label": "Volume", "t": 2004.55, "v": 1450000}]}, "mark": {"type": "text", "align": "left", "baseline": "middle", "fontSize": 13, "color": "black"},
 "encoding": {"y": {"field": "v", "type": "quantitative", "title": null}, "text": {"field": "label"}}}
]
},
{
"width": 780, "height": 33,
"layer": [
{"data": {"name": "bounds"}, "mark": {"type": "rule", "color": "black", "strokeWidth": 1.5},
 "encoding": {"x": {"field": "b", "type": "quantitative", "title": null, "scale": {"domain": [2004.374, 2024.416], "nice": false, "zero": false}, "axis": null}}},
{"data": {"values": [{"k": 1, "y": 15}]}, "mark": {"type": "rule", "color": "black", "strokeWidth": 1.5},
 "encoding": {"y": {"field": "y", "type": "quantitative", "scale": {"domain": [0, 33], "nice": false}, "axis": null}}},
{"data": {"name": "labels"}, "mark": {"type": "text", "align": "center", "baseline": "middle", "fontSize": 12, "color": "black"},
 "encoding": {"x": {"field": "m", "type": "quantitative", "title": null, "scale": {"domain": [2004.374, 2024.416], "nice": false, "zero": false}, "axis": null}, "y": {"datum": 7.5}, "text": {"field": "yr"}}}
]
}
]
}
]
}
